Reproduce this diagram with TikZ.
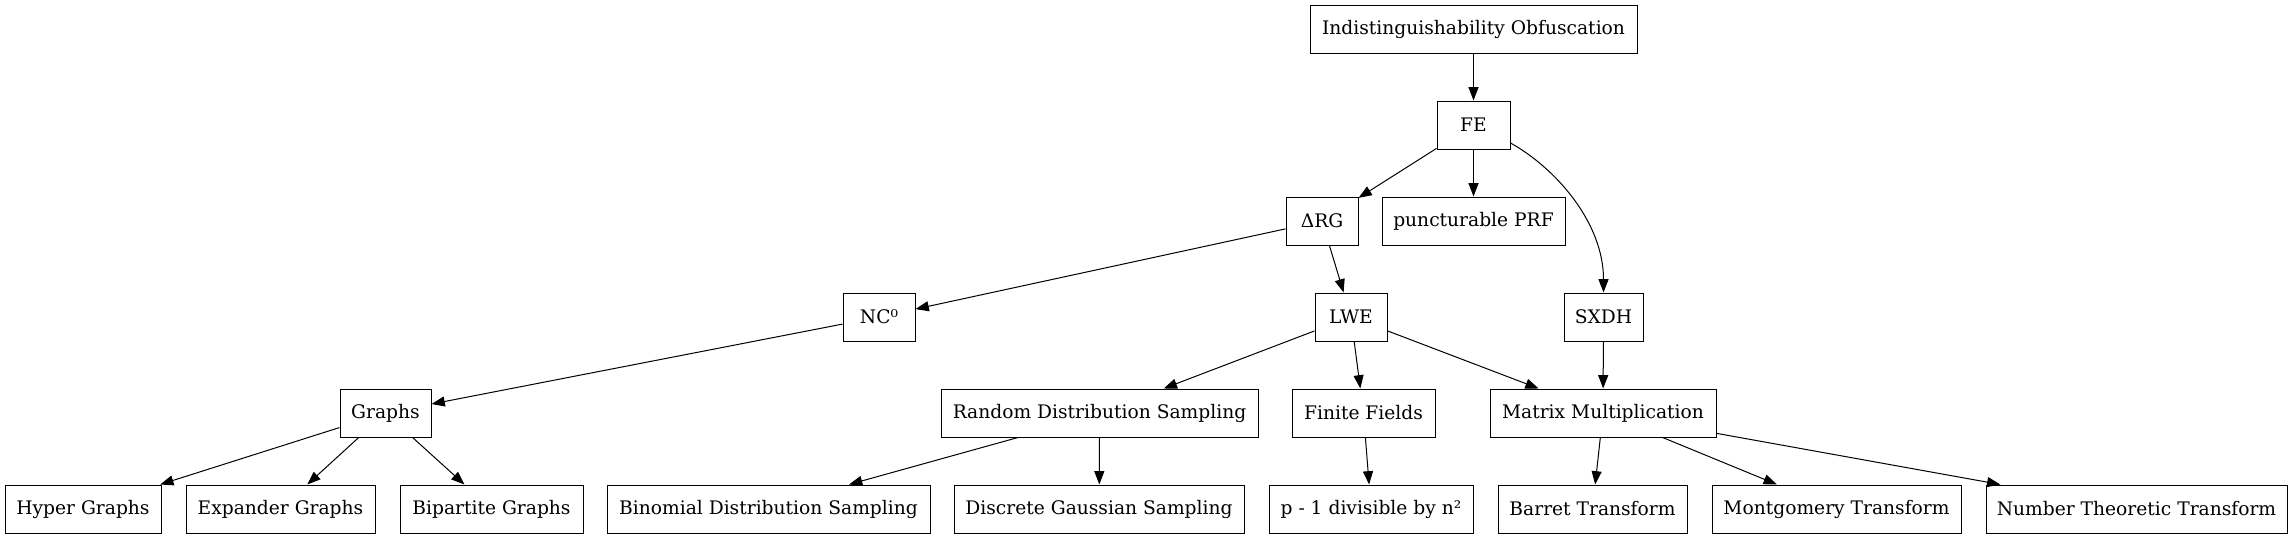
\documentclass[tikz,border=0pt]{standalone}
\usepackage{fontspec}
\setmainfont{DejaVu Serif}
\usetikzlibrary{arrows.meta,calc}
\begin{document}
\begin{tikzpicture}[x=0.75pt,y=-0.75pt,
  box/.style={draw=black, line width=0.75pt, minimum height=36pt, inner sep=0pt,
    font=\fontsize{14pt}{16pt}\selectfont, minimum width=#1*0.75pt},
  arr/.style={draw=black, line width=0.75pt, -{Triangle[length=10pt,width=7.5pt]}}]
\path[use as bounding box, fill=white] (0,0) rectangle (2293,539);

% row 1
\node[box=327] (io) at (1473.5,29) {Indistinguishability Obfuscation};
% row 2
\node[box=73] (fe) at (1473.5,125) {FE};
% row 3
\node[box=72] (drg) at (1322,221) {ΔRG};
\node[box=183] (prf) at (1473.5,221) {puncturable PRF};
% row 4
\node[box=72] (nc) at (879,317) {NC⁰};
\node[box=72] (lwe) at (1351,317) {LWE};
\node[box=79] (sxdh) at (1603.5,317) {SXDH};
% row 5
\node[box=91] (gr) at (385.5,413) {Graphs};
\node[box=317] (rds) at (1099.5,413) {Random Distribution Sampling};
\node[box=143] (ff) at (1363.5,413) {Finite Fields};
\node[box=226] (mm) at (1603,413) {Matrix Multiplication};
% row 6
\node[box=156] (hyp) at (83,509) {Hyper Graphs};
\node[box=189] (exp) at (280.5,509) {Expander Graphs};
\node[box=183] (bip) at (491.5,509) {Bipartite Graphs};
\node[box=323] (bin) at (768.5,509) {Binomial Distribution Sampling};
\node[box=290] (dgs) at (1099,509) {Discrete Gaussian Sampling};
\node[box=204] (pdiv) at (1371,509) {p - 1 divisible by n²};
\node[box=189] (bar) at (1592.5,509) {Barret Transform};
\node[box=249] (mon) at (1836.5,509) {Montgomery Transform};
\node[box=301] (ntt) at (2136.5,509) {Number Theoretic Transform};

% edges
\draw[arr] (io) -- (fe);
\draw[arr] (fe) -- (drg);
\draw[arr] (fe) -- (prf);
\draw[arr] ($(fe.east)+(0,18)$) .. controls +(45,25) and +(0,-70) .. (sxdh.north);
\draw[arr] (drg) -- (nc);
\draw[arr] (drg) -- (lwe);
\draw[arr] (nc) -- (gr);
\draw[arr] (gr) -- (hyp);
\draw[arr] (gr) -- (exp);
\draw[arr] (gr) -- (bip);
\draw[arr] (lwe) -- (rds);
\draw[arr] (lwe) -- (ff);
\draw[arr] (lwe) -- (mm);
\draw[arr] (sxdh) -- (mm);
\draw[arr] ($(rds.south)+(-81.5,0)$) -- ($(bin.north)+(80.5,0)$);
\draw[arr] ($(rds.south)+(-0.2,0)$) -- ($(dgs.north)+(0.3,0)$);
\draw[arr] (ff) -- (pdiv);
\draw[arr] (mm) -- (bar);
\draw[arr] (mm) -- (mon);
\draw[arr] (mm) -- (ntt);
\end{tikzpicture}
\end{document}
